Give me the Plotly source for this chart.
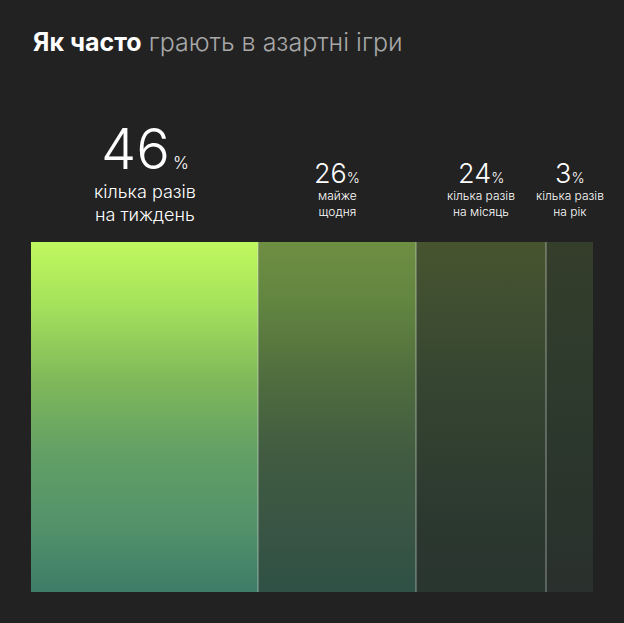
import plotly.graph_objects as go

# survey result: how often people gamble (Ukrainian labels)
SHARES = [46, 26, 24, 3]
LABELS = [
    ["кілька разів", "на тиждень"],
    ["майже", "щодня"],
    ["кілька разів", "на місяць"],
    ["кілька разів", "на рік"],
]
TITLE_BOLD = "Як часто"
TITLE_REST = "грають в азартні ігри"

# styling (pixel-like units, the axes map 1 unit to 1 px)
W, H = 624, 623
BAR_LEFT = 31
BAR_WIDTHS = [227, 158, 130, 47]
BAR_BOTTOM, BAR_TOP = 31, 381
BG = "#222222"
GRADIENTS = [
    [[0, "#3e7c68"], [0.2, "#54936a"], [0.4, "#62a065"], [0.6, "#7fb85a"], [0.83, "#a6e35c"], [1, "#c0f85e"]],
    [[0, "#2f5146"], [0.2, "#3a5543"], [0.4, "#415c41"], [0.6, "#4f6c3f"], [0.83, "#628540"], [1, "#6e8e42"]],
    [[0, "#29352f"], [0.2, "#2b3830"], [0.4, "#313f30"], [0.6, "#354531"], [0.83, "#404f31"], [1, "#46542f"]],
    [[0, "#29302d"], [0.6, "#2d3a2c"], [1, "#353e2b"]],
]
FONT = "Inter"


def py(p):
    # screen pixel row -> y data value
    return H - p


fig = go.Figure()

edges = [BAR_LEFT]
for w in BAR_WIDTHS:
    edges.append(edges[-1] + w)

for i, share in enumerate(SHARES):
    x0, x1 = edges[i], edges[i + 1]
    fig.add_trace(go.Scatter(
        x=[x0, x1, x1, x0, x0],
        y=[BAR_BOTTOM, BAR_BOTTOM, BAR_TOP, BAR_TOP, BAR_BOTTOM],
        mode="lines", fill="toself", line=dict(width=0),
        fillgradient=dict(type="vertical", colorscale=GRADIENTS[i]),
        hoverinfo="text", text=f"{share}% " + " ".join(LABELS[i]),
        showlegend=False,
    ))

# thin light separators between the blocks
for x in edges[1:-1]:
    fig.add_shape(type="line", x0=x, x1=x, y0=BAR_BOTTOM, y1=BAR_TOP,
                  line=dict(color="rgba(225,225,225,0.55)", width=1))

for i, share in enumerate(SHARES):
    cx = (edges[i] + edges[i + 1]) / 2
    big = i == 0
    num_size = 56 if big else 27
    pct_size = 17 if big else 14
    gap = "<span style='font-size:11px'> </span>" if big else ""
    fig.add_annotation(
        x=cx, y=py(149 if big else 173), xanchor="center", yanchor="middle",
        text=f"{share}{gap}<span style='font-size:{pct_size}px'>%</span>",
        showarrow=False,
        font=dict(family=FONT, size=num_size, color="#ffffff", weight=300),
    )
    lab_size = 18 if big else 12
    fig.add_annotation(
        x=cx, y=py(202.5 if big else 203), xanchor="center", yanchor="middle",
        text="<br>".join(LABELS[i]), showarrow=False, align="center",
        font=dict(family=FONT, size=lab_size, color="#ffffff", weight=300),
    )

fig.add_annotation(
    x=BAR_LEFT, y=py(41.6), xanchor="left", yanchor="middle", showarrow=False,
    text=f"<b>{TITLE_BOLD}</b> <span style='color:#a8a8a8'>{TITLE_REST}</span>",
    font=dict(family=FONT, size=25, color="#ffffff", weight=300),
)

fig.update_layout(
    width=W, height=H,
    margin=dict(l=0, r=0, t=0, b=0),
    paper_bgcolor=BG, plot_bgcolor=BG,
    xaxis=dict(range=[0, W], visible=False, fixedrange=True),
    yaxis=dict(range=[0, H], visible=False, fixedrange=True),
)

# drop the page's default body margin so the figure fills the window
fig.write_html("out.html", config={"displayModeBar": False},
               post_script="document.body.style.margin='0';")
